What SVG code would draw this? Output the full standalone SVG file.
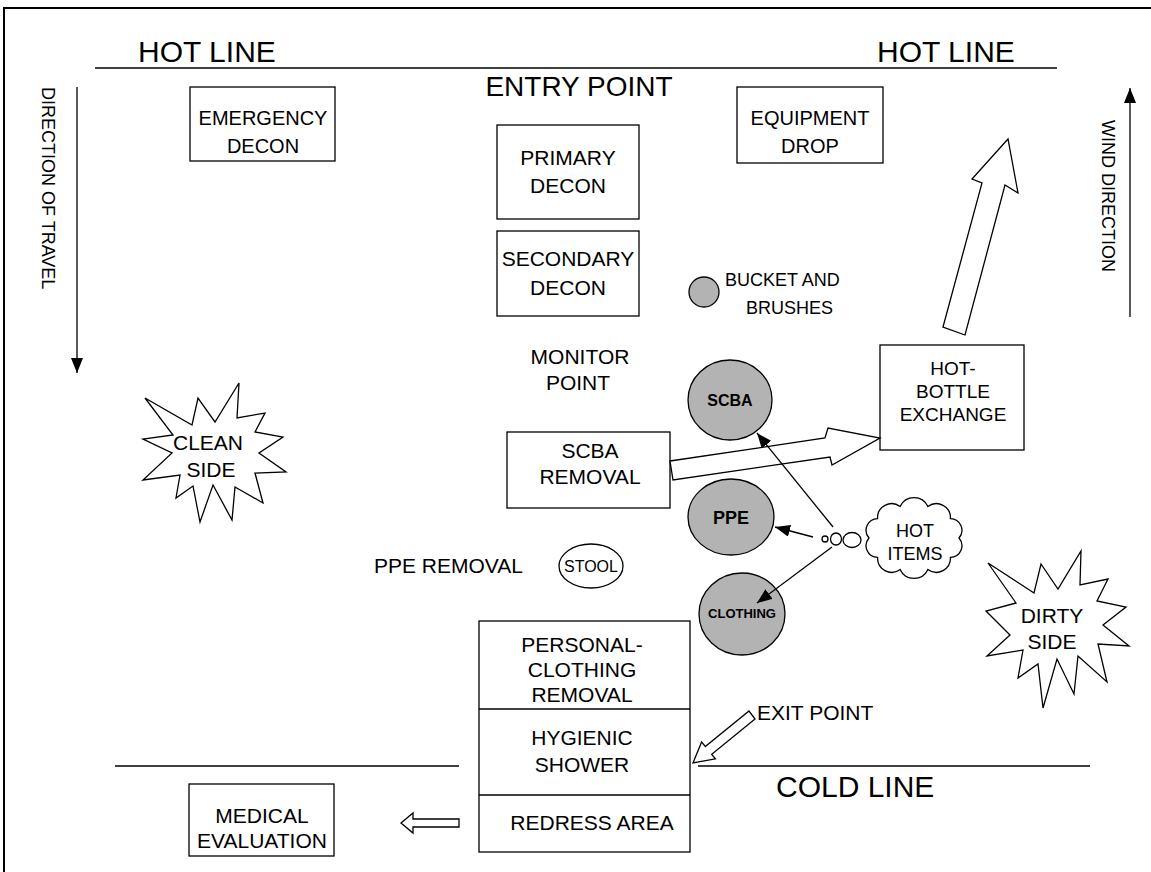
<svg xmlns="http://www.w3.org/2000/svg" width="1151" height="872" viewBox="0 0 1151 872">
<style>
text{font-family:"Liberation Sans",Arial,sans-serif;fill:#000}
.t21{font-size:21px}
.t18{font-size:18px}
.big{font-size:30px}
.mid{text-anchor:middle}
.box{fill:#fff;stroke:#000;stroke-width:1.3}
.gray{fill:#b3b3b3;stroke:#000;stroke-width:1.3}
.ln{fill:none;stroke:#000;stroke-width:1.3}
.blk{fill:#fff;stroke:#000;stroke-width:1.3;stroke-linejoin:miter}
.b{font-weight:bold}
</style>
<defs>
<marker id="ah" markerUnits="userSpaceOnUse" markerWidth="16" markerHeight="12" refX="15" refY="6" orient="auto">
<path d="M0,0 L15,6 L0,12 Z" fill="#000"/>
</marker>
</defs>
<rect x="4" y="8" width="1170" height="890" fill="none" stroke="#000" stroke-width="2"/>

<g id="hotlines">
<line class="ln" x1="95" y1="68" x2="1057" y2="68"/>
<text class="big" x="138" y="62">HOT LINE</text>
<text class="big" x="877" y="62">HOT LINE</text>
<text class="mid" x="579" y="96" style="font-size:28px">ENTRY POINT</text>
</g>

<g id="coldline">
<line class="ln" x1="115" y1="766" x2="459" y2="766"/>
<line class="ln" x1="698" y1="766" x2="1090" y2="766"/>
<text class="big" x="776" y="797">COLD LINE</text>
</g>

<g id="travel">
<line class="ln" x1="77" y1="87" x2="77" y2="373" marker-end="url(#ah)"/>
<text class="t18" transform="translate(42,87) rotate(90)">DIRECTION OF TRAVEL</text>
</g>

<g id="wind">
<line class="ln" x1="1130" y1="317" x2="1130" y2="88" marker-end="url(#ah)"/>
<text class="t18" transform="translate(1102,120) rotate(90)">WIND DIRECTION</text>
</g>

<g id="emergency-decon">
<rect class="box" x="190" y="87" width="145" height="74"/>
<text class="mid" x="263" y="125" style="font-size:20px">EMERGENCY</text>
<text class="mid" x="263" y="153" style="font-size:20px">DECON</text>
</g>

<g id="equipment-drop">
<rect class="box" x="737" y="87" width="146" height="76"/>
<text class="mid" x="810" y="125" style="font-size:20px">EQUIPMENT</text>
<text class="mid" x="810" y="153" style="font-size:20px">DROP</text>
</g>

<g id="primary-decon">
<rect class="box" x="497" y="125" width="142" height="94"/>
<text class="t21 mid" x="568" y="165">PRIMARY</text>
<text class="t21 mid" x="568" y="193">DECON</text>
</g>

<g id="secondary-decon">
<rect class="box" x="497" y="231" width="142" height="85"/>
<text class="t21 mid" x="568" y="266">SECONDARY</text>
<text class="t21 mid" x="568" y="295">DECON</text>
</g>

<g id="bucket">
<circle class="gray" cx="704" cy="292" r="15"/>
<text class="t18" x="725" y="286">BUCKET AND</text>
<text class="t18" x="746" y="314">BRUSHES</text>
</g>

<g id="monitor-point">
<text class="t21 mid" x="580" y="364">MONITOR</text>
<text class="t21 mid" x="578" y="390">POINT</text>
</g>

<g id="scba">
<ellipse class="gray" cx="730" cy="400" rx="42" ry="40"/>
<text class="b mid" x="730" y="406" style="font-size:16px">SCBA</text>
</g>

<g id="ppe">
<ellipse class="gray" cx="731" cy="517" rx="43" ry="38"/>
<text class="b mid" x="731" y="524" style="font-size:18px">PPE</text>
</g>

<g id="clothing">
<ellipse class="gray" cx="742" cy="614" rx="43" ry="41"/>
<text class="b mid" x="742" y="618" style="font-size:13px">CLOTHING</text>
</g>

<g id="scba-removal">
<rect class="box" x="507" y="432" width="163" height="76"/>
<text class="t21 mid" x="590" y="458">SCBA</text>
<text class="t21 mid" x="590" y="484">REMOVAL</text>
</g>

<g id="hot-bottle-exchange">
<rect class="box" x="880" y="345" width="144" height="105"/>
<text class="mid" x="953" y="375" style="font-size:19px">HOT-</text>
<text class="mid" x="953" y="398" style="font-size:19px">BOTTLE</text>
<text class="mid" x="953" y="421" style="font-size:19px">EXCHANGE</text>
</g>

<g id="ppe-removal">
<text class="t21" x="374" y="573">PPE REMOVAL</text>
</g>

<g id="stool">
<ellipse class="box" cx="591" cy="566" rx="32" ry="22"/>
<text class="mid" x="591" y="572" style="font-size:16px">STOOL</text>
</g>

<g id="hot-items">
<path class="blk" d="M959,538 A11.7,11.7 0 0 1 950.4,557.4 A14,14 0 0 1 927.9,569.4 A15.3,15.3 0 0 1 900.1,569.4 A14,14 0 0 1 877.6,557.4 A11.7,11.7 0 0 1 869,538 A11.7,11.7 0 0 1 877.6,518.6 A14,14 0 0 1 900.1,506.6 A15.3,15.3 0 0 1 927.9,506.6 A14,14 0 0 1 950.4,518.6 A11.7,11.7 0 0 1 959,538 Z"/>
<text class="t18 mid" x="915" y="537">HOT</text>
<text class="t18 mid" x="915" y="560">ITEMS</text>
<circle class="blk" cx="825" cy="539" r="3"/>
<ellipse class="blk" cx="836" cy="539" rx="5.5" ry="6"/>
<ellipse class="blk" cx="852" cy="540" rx="9" ry="7.5"/>
</g>

<g id="clean-side">
<polygon class="blk" points="145,398 192,425 198,398 215,422 239,383 237,418 265,413 255,432 283,437 259,453 286,472 255,473 263,503 235,487 232,520 213,485 200,522 193,486 176,498 180,475 143,480 172,453 143,439 173,435"/>
<text class="t21 mid" x="208" y="450">CLEAN</text>
<text class="t21 mid" x="211" y="477">SIDE</text>
</g>

<g id="dirty-side">
<polygon class="blk" points="988,563 1034,593 1041,564 1058,589 1081,551 1080,585 1108,579 1097,601 1126,607 1103,625 1129,646 1098,644 1107,682 1078,656 1074,694 1057,659 1043,708 1038,664 1018,678 1023,650 987,656 1010,635 986,611 1016,603"/>
<text class="t21 mid" x="1052" y="623">DIRTY</text>
<text class="t21 mid" x="1052" y="649">SIDE</text>
</g>

<g id="personal-clothing-removal">
<rect class="box" x="479" y="621" width="211" height="231"/>
<line class="ln" x1="479" y1="709" x2="690" y2="709"/>
<line class="ln" x1="479" y1="795" x2="690" y2="795"/>
<text class="t21 mid" x="582" y="652">PERSONAL-</text>
<text class="t21 mid" x="582" y="677">CLOTHING</text>
<text class="t21 mid" x="582" y="702">REMOVAL</text>
<text class="t21 mid" x="582" y="745">HYGIENIC</text>
<text class="t21 mid" x="582" y="772">SHOWER</text>
<text class="t21 mid" x="592" y="830">REDRESS AREA</text>
</g>

<g id="medical-evaluation">
<rect class="box" x="189" y="784" width="145" height="72"/>
<text class="t21 mid" x="262" y="823">MEDICAL</text>
<text class="t21 mid" x="262" y="848">EVALUATION</text>
</g>

<g id="exit-point">
<text class="t21" x="757" y="720">EXIT POINT</text>
</g>

<g id="connectors">
<polygon class="blk" points="670,461 825,438 828,428 880,438 832,465 830,457 673,480"/>
<polygon class="blk" points="943,327 982,183 972,179 1008,139 1018,193 1005,185 965,335"/>
<polygon class="blk" points="755,719 711.7,754.3 715.4,758.9 693,763 701.6,741.9 705.3,746.5 749,711"/>
<polygon class="blk" points="459,819 413,819 413,813 401,823 413,833 413,827 459,827"/>
<line class="ln" x1="833" y1="527" x2="757" y2="433" marker-end="url(#ah)"/>
<line class="ln" x1="813" y1="537" x2="775" y2="527" marker-end="url(#ah)"/>
<line class="ln" x1="832" y1="547" x2="757" y2="603" marker-end="url(#ah)"/>
</g>
</svg>
